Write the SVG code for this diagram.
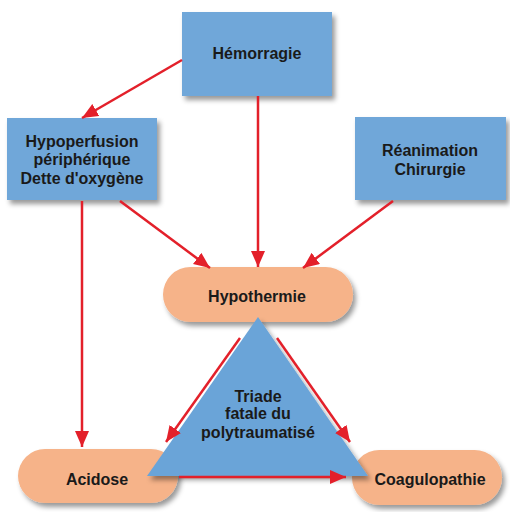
<svg xmlns="http://www.w3.org/2000/svg" width="510" height="512" viewBox="0 0 510 512">
<style>
.box{fill:#6fa7d9}
.pill{fill:#f6b389}
.tri{fill:#6ba4d8}
.t{font-family:"Liberation Sans",Arial,sans-serif;font-weight:bold;font-size:16px;fill:#1a1a1a;text-anchor:middle}
.c{stroke:#e3202a;stroke-width:2.5;fill:none;marker-end:url(#ah)}
</style>
<defs>
<filter id="sh" x="-10%" y="-10%" width="130%" height="140%">
<feDropShadow dx="3" dy="4" stdDeviation="2.5" flood-color="#000" flood-opacity="0.4"/>
</filter>
<marker id="ah" markerUnits="userSpaceOnUse" markerWidth="18" markerHeight="16" refX="16" refY="7" orient="auto">
<path d="M0,0 L16,7 L0,14 Z" fill="#e3202a"/>
</marker>
</defs>
<rect width="510" height="512" fill="#ffffff"/>
<g id="hemorragie">
<rect class="box" x="182" y="12" width="150" height="84" filter="url(#sh)"/>
<text class="t" x="257" y="59">Hémorragie</text>
</g>
<g id="hypoperfusion">
<rect class="box" x="7" y="118" width="150" height="82" filter="url(#sh)"/>
<text class="t" x="82" y="147">Hypoperfusion</text>
<text class="t" x="82" y="165">périphérique</text>
<text class="t" x="82" y="184">Dette d'oxygène</text>
</g>
<g id="reanimation">
<rect class="box" x="355" y="117" width="151" height="83" filter="url(#sh)"/>
<text class="t" x="430" y="156">Réanimation</text>
<text class="t" x="430" y="175">Chirurgie</text>
</g>
<g id="hypothermie">
<rect class="pill" x="163" y="267" width="190" height="55" rx="27.5" filter="url(#sh)"/>
<text class="t" x="257" y="302">Hypothermie</text>
</g>
<g id="acidose">
<rect class="pill" x="18" y="449" width="160" height="54" rx="27" filter="url(#sh)"/>
<text class="t" x="97" y="485">Acidose</text>
</g>
<g id="coagulopathie">
<rect class="pill" x="352" y="450" width="150" height="55" rx="27.5" filter="url(#sh)"/>
<text class="t" x="430" y="485">Coagulopathie</text>
</g>
<g id="triade">
<polygon class="tri" points="258,317 147,476 368,476" filter="url(#sh)"/>
<text class="t" x="258" y="402">Triade</text>
<text class="t" x="258" y="419">fatale du</text>
<text class="t" x="258" y="438">polytraumatisé</text>
</g>
<g id="connectors">
<line class="c" x1="182" y1="60" x2="82" y2="118"/>
<line class="c" x1="258" y1="96" x2="258" y2="267"/>
<line class="c" x1="120" y1="201" x2="210" y2="268"/>
<line class="c" x1="393" y1="201" x2="303" y2="268"/>
<line class="c" x1="82" y1="201" x2="82" y2="447"/>
<line class="c" x1="240" y1="338" x2="166" y2="442"/>
<line class="c" x1="277" y1="338" x2="350" y2="442"/>
<line class="c" x1="179" y1="477" x2="346" y2="477"/>
</g>
</svg>
